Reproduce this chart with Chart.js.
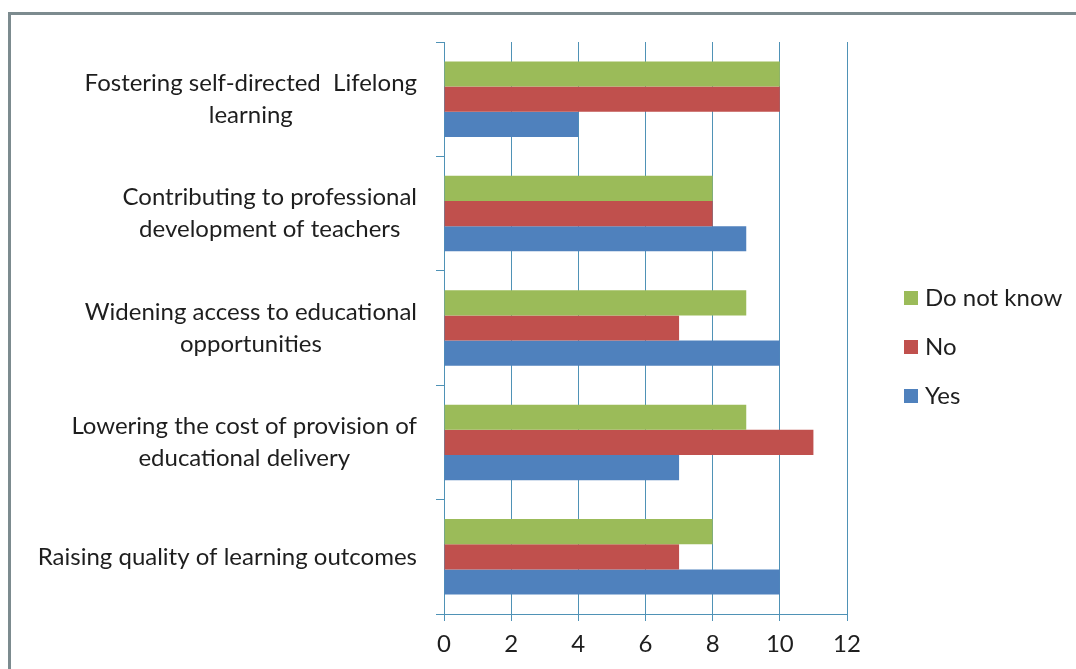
<!DOCTYPE html>
<html>
<head>
<meta charset="utf-8">
<script src="https://cdn.jsdelivr.net/npm/chart.js@4"></script>
<style>
  html, body { margin: 0; padding: 0; background: #fff; overflow: hidden; }
  #wrap { position: relative; width: 1076px; height: 669px; }
  #frame {
    position: absolute; left: 8px; top: 12px; width: 1200px; height: 800px;
    border-top: 3px solid #7c8b8f; border-left: 3px solid #7c8b8f;
    pointer-events: none;
  }
</style>
</head>
<body>
<div id="wrap">
  <canvas id="myChart" width="1076" height="669"></canvas>
  <div id="frame"></div>
</div>
<script>
const categories = [
  ['Fostering self-directed  Lifelong', 'learning'],
  ['Contributing to professional', 'development of teachers'],
  ['Widening access to educational', 'opportunities'],
  ['Lowering the cost of provision of', 'educational delivery'],
  ['Raising quality of learning outcomes'],
];
const doNotKnow = [10, 8, 9, 9, 8];
const no = [10, 8, 7, 11, 7];
const yes = [4, 9, 10, 7, 10];
const xTicks = [0, 2, 4, 6, 8, 10, 12];

const FONT = 'Lato, "Open Sans", sans-serif';
const TEXT = '#1e1e1e';
const AXIS = '#4f92b6';

// category labels: block right-aligned to the axis, lines centred inside it
const catLabels = {
  id: 'catLabels',
  afterDraw(chart) {
    const { ctx } = chart;
    const scale = chart.scales.y;
    ctx.save();
    ctx.font = '24px ' + FONT;
    ctx.fillStyle = TEXT;
    ctx.textAlign = 'center';
    ctx.textBaseline = 'middle';
    categories.forEach((lines, i) => {
      const y = scale.getPixelForTick(i);
      const w = Math.max(...lines.map(l => ctx.measureText(l).width));
      const cx = scale.right - 27 - w / 2;
      lines.forEach((l, j) => {
        ctx.fillText(l, cx, y + (j - (lines.length - 1) / 2) * 32);
      });
    });
    ctx.restore();
  },
};

// legend on the right, same order as the bars in each group
const sideLegend = {
  id: 'sideLegend',
  afterDraw(chart) {
    const { ctx, chartArea } = chart;
    const sets = chart.data.datasets;
    ctx.save();
    ctx.font = '24px ' + FONT;
    ctx.textBaseline = 'middle';
    ctx.textAlign = 'left';
    sets.forEach((ds, i) => {
      const y = chartArea.top + 256 + i * 49;
      const x = chartArea.right + 57;
      ctx.fillStyle = ds.backgroundColor;
      ctx.fillRect(x, y - 7, 14, 14);
      ctx.fillStyle = TEXT;
      ctx.fillText(ds.label, x + 21, y);
    });
    ctx.restore();
  },
};

const chart1 = document.getElementById('myChart').getContext('2d');
const myChart = new Chart(chart1, {
  type: 'bar',
  data: {
    labels: categories,
    datasets: [
      { label: 'Do not know', data: doNotKnow, backgroundColor: '#9bbb59' },
      { label: 'No', data: no, backgroundColor: '#c0504d' },
      { label: 'Yes', data: yes, backgroundColor: '#4f81bd' },
    ],
  },
  options: {
    indexAxis: 'y',
    responsive: false,
    animation: false,
    barPercentage: 1,
    categoryPercentage: 0.66,
    layout: {
      padding: { top: 42, left: 0, right: 229, bottom: 0 },
    },
    scales: {
      x: {
        min: 0,
        max: 12,
        afterFit(scale) { scale.height = 55; },
        afterBuildTicks(scale) { scale.ticks = xTicks.map(v => ({ value: v })); },
        grid: { color: AXIS, lineWidth: 1, tickLength: 7 },
        border: { color: AXIS, width: 1 },
        ticks: {
          color: TEXT,
          padding: 9,
          font: { family: FONT, size: 24 },
        },
      },
      y: {
        afterFit(scale) { scale.width = 444; },
        grid: {
          offset: true,
          drawOnChartArea: false,
          color: AXIS,
          tickLength: 8,
        },
        border: { color: AXIS, width: 1 },
        ticks: { display: false },
      },
    },
    plugins: {
      legend: { display: false },
      tooltip: { enabled: false },
    },
  },
  plugins: [catLabels, sideLegend],
});
</script>
</body>
</html>
